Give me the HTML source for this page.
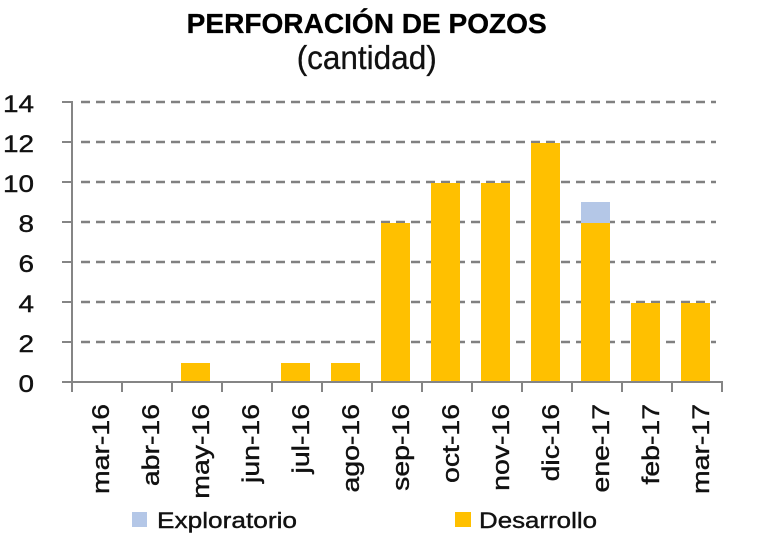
<!DOCTYPE html>
<html><head><meta charset="utf-8"><style>
html,body{margin:0;padding:0;background:#fff;}
svg{display:block;font-family:"Liberation Sans",Arial,sans-serif;}
</style></head><body>
<svg width="768" height="540" viewBox="0 0 768 540" xmlns="http://www.w3.org/2000/svg">
<rect width="768" height="540" fill="#fff"/>
<text x="366.7" y="33" text-anchor="middle" font-size="28" font-weight="bold" fill="#000" stroke="#000" stroke-width="0.3" textLength="360" lengthAdjust="spacingAndGlyphs">PERFORACIÓN DE POZOS</text>
<text x="366.7" y="69" text-anchor="middle" font-size="33" fill="#111" stroke="#111" stroke-width="0.3" textLength="140" lengthAdjust="spacingAndGlyphs">(cantidad)</text>
<g stroke="#808080" stroke-width="2.5" stroke-dasharray="9 6">
<line x1="81" y1="102" x2="716" y2="102"/>
<line x1="81" y1="142" x2="716" y2="142"/>
<line x1="81" y1="182" x2="716" y2="182"/>
<line x1="81" y1="222" x2="716" y2="222"/>
<line x1="81" y1="262" x2="716" y2="262"/>
<line x1="81" y1="302" x2="716" y2="302"/>
<line x1="81" y1="342" x2="716" y2="342"/>
</g>
<g fill="#FFC000">
<rect x="181" y="363" width="29" height="19"/>
<rect x="281" y="363" width="29" height="19"/>
<rect x="331" y="363" width="29" height="19"/>
<rect x="381" y="223" width="29" height="159"/>
<rect x="431" y="183" width="29" height="199"/>
<rect x="481" y="183" width="29" height="199"/>
<rect x="531" y="143" width="29" height="239"/>
<rect x="581" y="223" width="29" height="159"/>
<rect x="631" y="303" width="29" height="79"/>
<rect x="681" y="303" width="29" height="79"/>
</g>
<rect x="581" y="202" width="29" height="21" fill="#B4C7E7"/>
<g stroke="#858585" stroke-width="2" fill="none">
<line x1="72" y1="101" x2="72" y2="383"/>
<line x1="62" y1="382" x2="723" y2="382"/>
<line x1="62" y1="102" x2="72" y2="102"/>
<line x1="62" y1="142" x2="72" y2="142"/>
<line x1="62" y1="182" x2="72" y2="182"/>
<line x1="62" y1="222" x2="72" y2="222"/>
<line x1="62" y1="262" x2="72" y2="262"/>
<line x1="62" y1="302" x2="72" y2="302"/>
<line x1="62" y1="342" x2="72" y2="342"/>
<line x1="72" y1="382" x2="72" y2="392"/>
<line x1="122" y1="382" x2="122" y2="392"/>
<line x1="172" y1="382" x2="172" y2="392"/>
<line x1="222" y1="382" x2="222" y2="392"/>
<line x1="272" y1="382" x2="272" y2="392"/>
<line x1="322" y1="382" x2="322" y2="392"/>
<line x1="372" y1="382" x2="372" y2="392"/>
<line x1="422" y1="382" x2="422" y2="392"/>
<line x1="472" y1="382" x2="472" y2="392"/>
<line x1="522" y1="382" x2="522" y2="392"/>
<line x1="572" y1="382" x2="572" y2="392"/>
<line x1="622" y1="382" x2="622" y2="392"/>
<line x1="672" y1="382" x2="672" y2="392"/>
<line x1="722" y1="382" x2="722" y2="392"/>
</g>
<g font-size="24" fill="#111" stroke="#111" stroke-width="0.4" text-anchor="end">
<text transform="translate(34,112) scale(1.16,1)">14</text>
<text transform="translate(34,152) scale(1.16,1)">12</text>
<text transform="translate(34,192) scale(1.16,1)">10</text>
<text transform="translate(34,232) scale(1.16,1)">8</text>
<text transform="translate(34,272) scale(1.16,1)">6</text>
<text transform="translate(34,312) scale(1.16,1)">4</text>
<text transform="translate(34,352) scale(1.16,1)">2</text>
<text transform="translate(34,392) scale(1.16,1)">0</text>
</g>
<g font-size="24.5" fill="#111" stroke="#111" stroke-width="0.4" text-anchor="end">
<text transform="translate(109,404) rotate(-90) scale(1.16,1)">mar-16</text>
<text transform="translate(159,404) rotate(-90) scale(1.16,1)">abr-16</text>
<text transform="translate(209,404) rotate(-90) scale(1.16,1)">may-16</text>
<text transform="translate(259,404) rotate(-90) scale(1.16,1)">jun-16</text>
<text transform="translate(309,404) rotate(-90) scale(1.16,1)">jul-16</text>
<text transform="translate(359,404) rotate(-90) scale(1.16,1)">ago-16</text>
<text transform="translate(409,404) rotate(-90) scale(1.16,1)">sep-16</text>
<text transform="translate(459,404) rotate(-90) scale(1.16,1)">oct-16</text>
<text transform="translate(509,404) rotate(-90) scale(1.16,1)">nov-16</text>
<text transform="translate(559,404) rotate(-90) scale(1.16,1)">dic-16</text>
<text transform="translate(609,404) rotate(-90) scale(1.16,1)">ene-17</text>
<text transform="translate(659,404) rotate(-90) scale(1.16,1)">feb-17</text>
<text transform="translate(709,404) rotate(-90) scale(1.16,1)">mar-17</text>
</g>
<rect x="132" y="512" width="15" height="15" fill="#B4C7E7"/>
<text x="157" y="528" font-size="22" fill="#111" stroke="#111" stroke-width="0.4" textLength="140" lengthAdjust="spacingAndGlyphs">Exploratorio</text>
<rect x="455" y="512" width="16" height="15" fill="#FFC000"/>
<text x="479" y="528" font-size="22" fill="#111" stroke="#111" stroke-width="0.4" textLength="118" lengthAdjust="spacingAndGlyphs">Desarrollo</text>
</svg>
</body></html>
